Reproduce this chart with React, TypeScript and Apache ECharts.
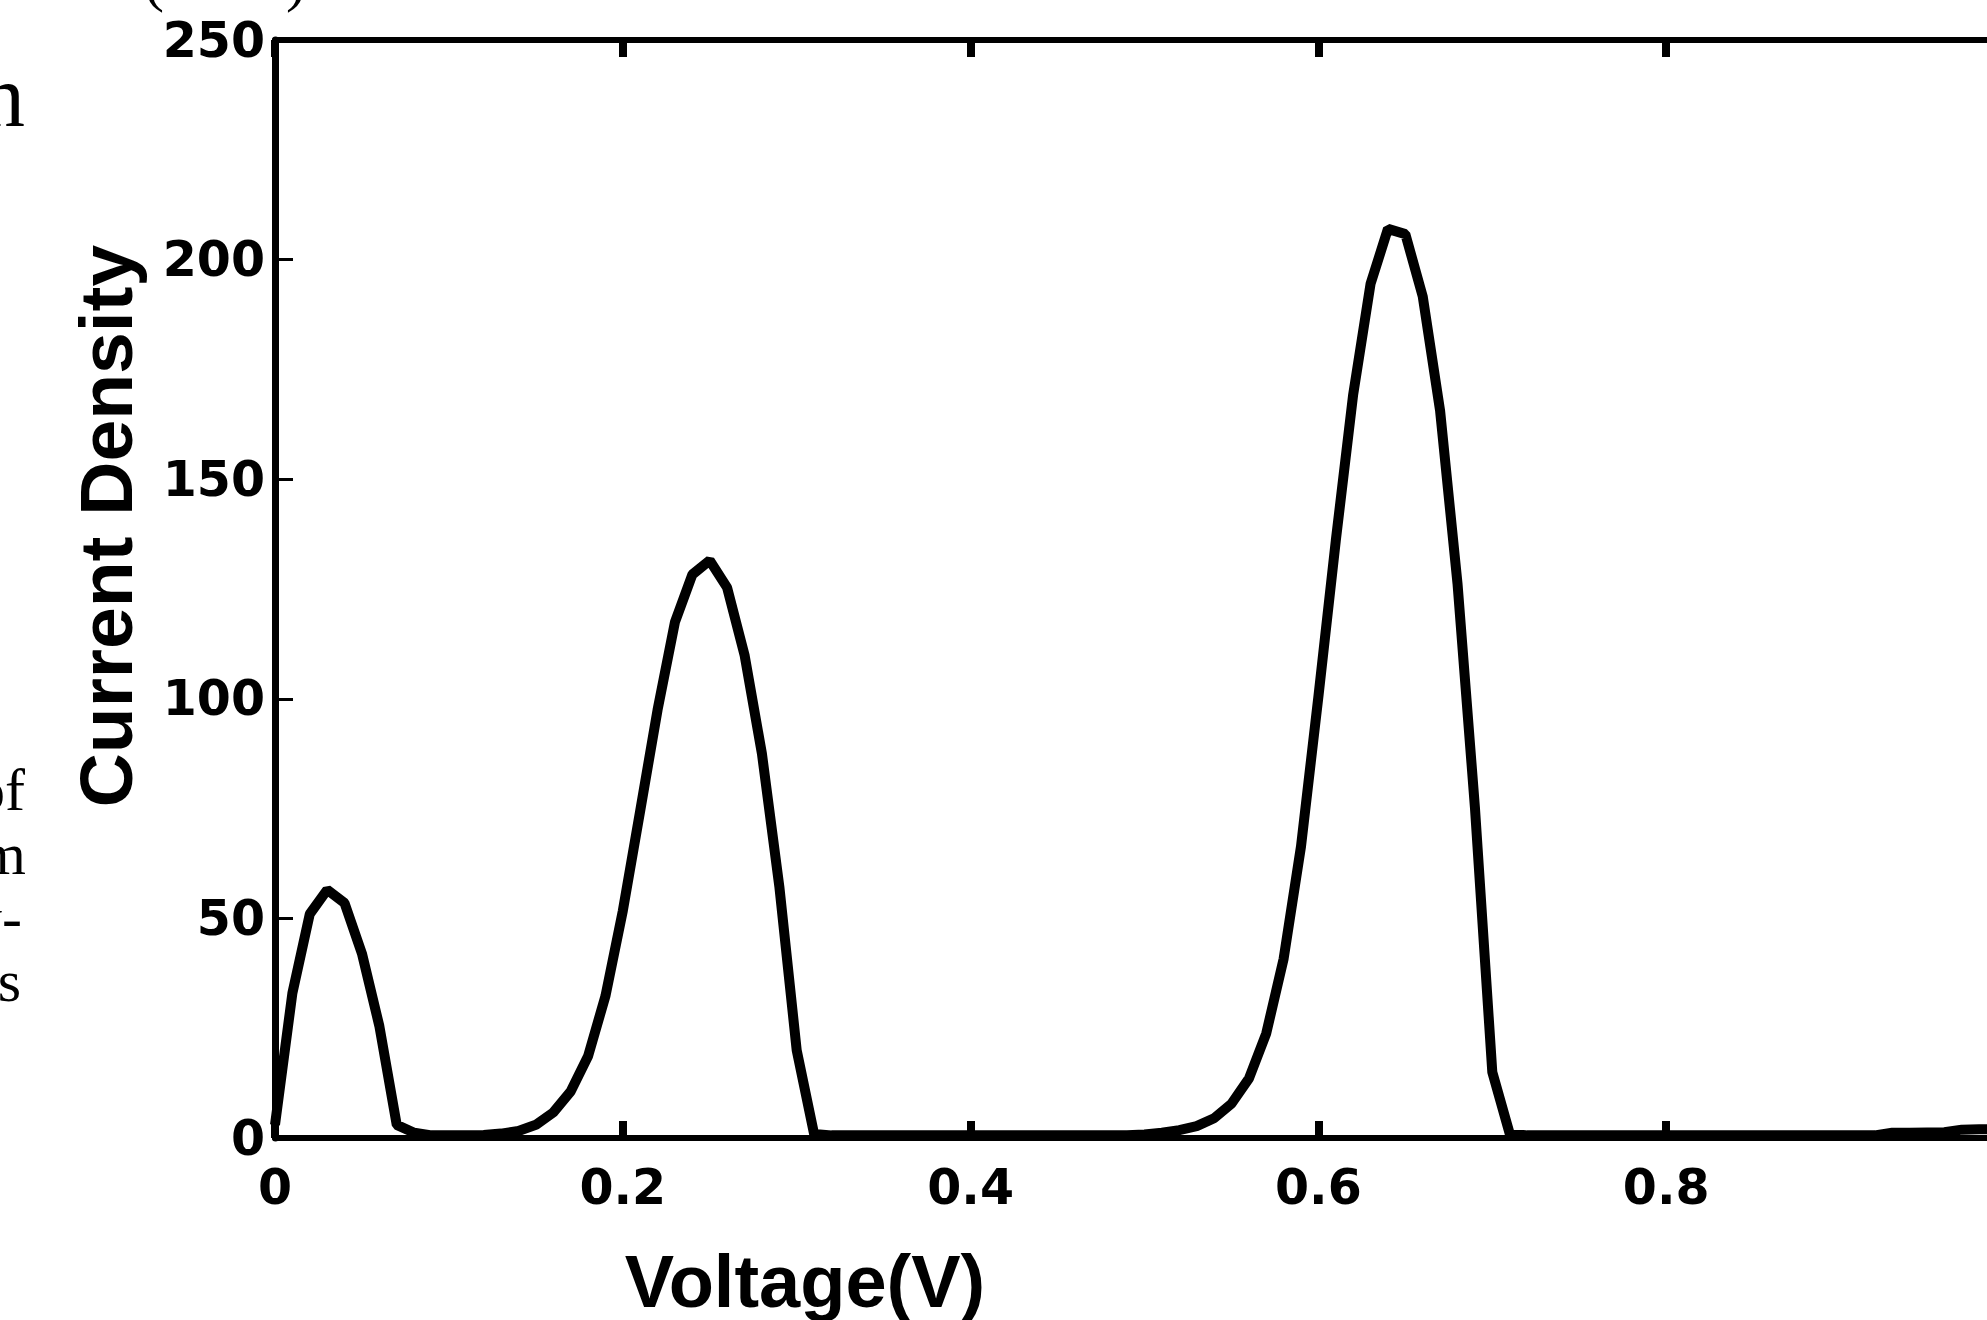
import React, { useEffect, useRef } from "react";
import * as echarts from "echarts";

// Voltage (V) sampled every 0.01 V
const voltage = [
  0.0, 0.01, 0.02, 0.03, 0.04, 0.05, 0.06, 0.07, 0.08, 0.09,
  0.1, 0.11, 0.12, 0.13, 0.14, 0.15, 0.16, 0.17, 0.18, 0.19,
  0.2, 0.21, 0.22, 0.23, 0.24, 0.25, 0.26, 0.27, 0.28, 0.29,
  0.3, 0.31, 0.32, 0.33, 0.34, 0.35, 0.36, 0.37, 0.38, 0.39,
  0.4, 0.41, 0.42, 0.43, 0.44, 0.45, 0.46, 0.47, 0.48, 0.49,
  0.5, 0.51, 0.52, 0.53, 0.54, 0.55, 0.56, 0.57, 0.58, 0.59,
  0.6, 0.61, 0.62, 0.63, 0.64, 0.65, 0.66, 0.67, 0.68, 0.69,
  0.7, 0.71, 0.72, 0.73, 0.74, 0.75, 0.76, 0.77, 0.78, 0.79,
  0.8, 0.81, 0.82, 0.83, 0.84, 0.85, 0.86, 0.87, 0.88, 0.89,
  0.9, 0.91, 0.92, 0.93, 0.94, 0.95, 0.96, 0.97, 0.98, 0.99,
  1.0,
];

// Current density
const currentDensity = [
  3, 33, 51, 56.5, 53.5, 42, 25.5, 3, 1.2, 0.6,
  0.6, 0.6, 0.7, 1.0, 1.6, 3.0, 5.8, 10.6, 18.6, 32.3,
  51.7, 74.5, 97.5, 117.5, 128.3, 131.5, 125.3, 110, 87.5, 57.3,
  20, 0.9, 0.6, 0.6, 0.6, 0.6, 0.6, 0.6, 0.6, 0.6,
  0.6, 0.6, 0.6, 0.6, 0.6, 0.6, 0.6, 0.6, 0.6, 0.6,
  0.8, 1.2, 1.8, 2.7, 4.5, 7.8, 13.5, 23.8, 40.8, 66.4,
  100.5, 136, 169.3, 194.5, 207, 205.8, 191.6, 165.5, 126.2, 75.3,
  15, 1.0, 0.6, 0.6, 0.6, 0.6, 0.6, 0.6, 0.6, 0.6,
  0.6, 0.6, 0.6, 0.6, 0.6, 0.6, 0.6, 0.6, 0.6, 0.6,
  0.6, 0.6, 0.6, 1.2, 1.2, 1.25, 1.3, 1.9, 2.0, 2.0,
  2.1,
];

const yTitle = "Current Density";
const xTitle = "Voltage(V)";

// Fragments of surrounding page text visible in the crop
const strayTexts = [
  { text: "n", x: 25, y: 140, size: 88 },
  { text: "of", x: 25, y: 820, size: 60 },
  { text: "m", x: 26, y: 884, size: 60 },
  { text: "y-", x: 22, y: 948, size: 60 },
  { text: "s", x: 21, y: 1011, size: 60 },
];

// Canvas is wider than the visible window: the reference crop cuts the plot at the right.
const CANVAS_W = 2100;
const CANVAS_H = 1320;

export default function App() {
  const ref = useRef<HTMLDivElement>(null);

  useEffect(() => {
    if (!ref.current) return;
    const chart = echarts.init(ref.current, undefined, { renderer: "svg" });

    const tickFont = {
      color: "#000",
      fontFamily: "DejaVu Sans",
      fontWeight: "bold" as const,
      fontSize: 49,
    };

    const xAxisBase = {
      type: "value" as const,
      min: 0,
      max: 1,
      interval: 0.2,
      axisLine: { show: true, onZero: false, lineStyle: { color: "#000", width: 6 } },
      axisTick: { show: true, inside: true, length: 17, lineStyle: { color: "#000", width: 8 } },
      splitLine: { show: false },
    };

    const yAxisBase = {
      type: "value" as const,
      min: 0,
      max: 250,
      interval: 50,
      axisLine: { show: true, onZero: false, lineStyle: { color: "#000", width: 7 } },
      axisTick: { show: true, inside: true, length: 18, lineStyle: { color: "#000", width: 3 } },
      splitLine: { show: false },
    };

    const graphics: any[] = [
      {
        type: "text",
        x: 106,
        y: 526,
        rotation: Math.PI / 2,
        style: {
          text: yTitle,
          fill: "#000",
          font: 'bold 75px "Liberation Sans", Arial, sans-serif',
          align: "center",
          verticalAlign: "middle",
          textAlign: "center",
          textVerticalAlign: "middle",
        },
      },
      {
        type: "text",
        x: 805,
        y: 1281,
        style: {
          text: xTitle,
          fill: "#000",
          font: 'bold 74px "Liberation Sans", Arial, sans-serif',
          align: "center",
          verticalAlign: "middle",
          textAlign: "center",
          textVerticalAlign: "middle",
        },
      },
      {
        type: "text",
        x: 154,
        y: 10,
        style: {
          text: "(",
          fill: "#000",
          font: '60px "Liberation Serif", serif',
          align: "center",
          verticalAlign: "bottom",
          textAlign: "center",
          textVerticalAlign: "bottom",
        },
      },
      {
        type: "text",
        x: 296,
        y: 10,
        style: {
          text: ")",
          fill: "#000",
          font: '60px "Liberation Serif", serif',
          align: "center",
          verticalAlign: "bottom",
          textAlign: "center",
          textVerticalAlign: "bottom",
        },
      },
      ...strayTexts.map((s) => ({
        type: "text",
        x: s.x,
        y: s.y,
        style: {
          text: s.text,
          fill: "#000",
          font: `${s.size}px "Liberation Serif", serif`,
          align: "right",
          verticalAlign: "bottom",
          textAlign: "right",
          textVerticalAlign: "bottom",
        },
      })),
    ];

    chart.setOption({
      animation: false,
      backgroundColor: "#fff",
      grid: { left: 275, right: CANVAS_W - 2014, top: 40, bottom: 182, containLabel: false },
      xAxis: [
        {
          ...xAxisBase,
          position: "bottom",
          axisLabel: {
            ...tickFont,
            margin: 25,
            formatter: (v: number) => (v === 0 || v === 1 ? String(v) : v.toFixed(1)),
          },
        },
        {
          ...xAxisBase,
          position: "top",
          axisLabel: { show: false },
        },
      ],
      yAxis: [
        {
          ...yAxisBase,
          position: "left",
          axisLabel: {
            ...tickFont,
            margin: 10,
            padding: [14, 0, 0, 0],
          },
        },
        {
          ...yAxisBase,
          position: "right",
          axisLabel: { show: false },
        },
      ],
      graphic: graphics,
      series: [
        {
          type: "line",
          data: voltage.map((v, i) => [v, currentDensity[i]]),
          showSymbol: false,
          symbol: "none",
          clip: false,
          lineStyle: { color: "#000", width: 10 },
          z: 3,
        },
      ],
    });

    return () => chart.dispose();
  }, []);

  return (
    <div
      style={{
        position: "absolute",
        left: 0,
        top: 0,
        width: 1987,
        height: 1320,
        overflow: "hidden",
        background: "#fff",
      }}
    >
      <div ref={ref} style={{ width: CANVAS_W, height: CANVAS_H }} />
    </div>
  );
}
